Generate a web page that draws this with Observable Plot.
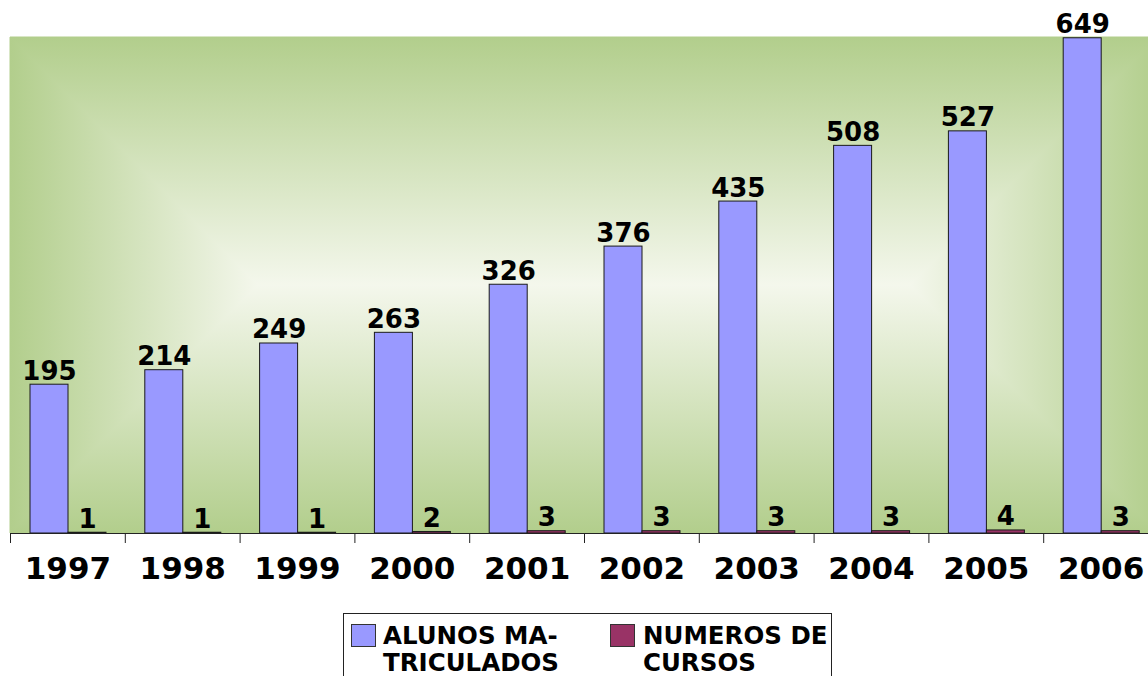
<!DOCTYPE html>
<html>
<head>
<meta charset="utf-8">
<script src="https://cdn.jsdelivr.net/npm/d3@7"></script>
<script src="https://cdn.jsdelivr.net/npm/@observablehq/plot@0.6"></script>
<style>
  html, body { margin: 0; padding: 0; background: #fff; overflow: hidden; width: 1148px; height: 676px; }
  #wrap { position: relative; width: 1148px; height: 676px; overflow: hidden; }
  #chart svg { display: block; max-width: none !important; width: 1160px; height: 605px; }
  #legend { position: absolute; left: 343px; top: 613px; width: 489px; height: 80px; border: 1px solid #222;
            box-sizing: border-box; background: #fff; font-family: "DejaVu Sans"; font-weight: bold;
            font-size: 24.5px; line-height: 27px; color: #000; }
  .sw { position: absolute; width: 25px; height: 23px; border: 1px solid #333; box-sizing: border-box; }
  .lt { position: absolute; white-space: nowrap; }
</style>
</head>
<body>
<div id="wrap">
  <div id="chart"></div>
  <div id="legend"></div>
</div>
<script>
const years = ["1997", "1998", "1999", "2000", "2001", "2002", "2003", "2004", "2005", "2006"];
const alunos = [195, 214, 249, 263, 326, 376, 435, 508, 527, 649];
const cursos = [1, 1, 1, 2, 3, 3, 3, 3, 4, 3];
const seriesLabels = [["ALUNOS MA-", "TRICULADOS"], ["NUMEROS DE", "CURSOS"]];
const seriesColors = ["#9999ff", "#993366"];

const data = years.map((year, i) => ({year, alunos: alunos[i], cursos: cursos[i]}));

const font = "DejaVu Sans";
const chart = Plot.plot({
  width: 1160,
  height: 605,
  marginLeft: 10,
  marginRight: 2,
  marginTop: 37,
  marginBottom: 72,
  style: {fontFamily: font, fontSize: "31px", fontWeight: "bold", color: "#000", background: "transparent", overflow: "visible"},
  x: {domain: years, padding: 0, round: false, tickSize: 0, tickPadding: 23, label: null},
  y: {domain: [0, 650], axis: null},
  marks: [
    Plot.barY(data, {x: "year", y: "alunos", fill: seriesColors[0], stroke: "#1a1a1a", strokeWidth: 1, insetLeft: 20, insetRight: 56.8}),
    Plot.barY(data, {x: "year", y: "cursos", fill: seriesColors[1], stroke: "#1a1a1a", strokeWidth: 1, insetLeft: 58, insetRight: 18.8}),
    Plot.text(data, {x: "year", y: "alunos", text: d => String(d.alunos), dx: -18.4, dy: -5, lineAnchor: "bottom", fontSize: 26, fontWeight: "bold", fill: "#000"}),
    Plot.text(data, {x: "year", y: "cursos", text: d => String(d.cursos), dx: 19.6, dy: -5, lineAnchor: "bottom", fontSize: 26, fontWeight: "bold", fill: "#000"}),
    Plot.ruleY([0], {stroke: "#222", strokeWidth: 1}),
    Plot.ruleX(years, {x: d => d, dx: -57.4, insetTop: 496, insetBottom: -10, stroke: "#222", strokeWidth: 1})
  ]
});
document.getElementById("chart").appendChild(chart);

// Rectangular "from centre" gradient background for the plot area
const xr = chart.scale("x").range, yr = chart.scale("y").range;
const x0 = Math.min(...xr), x1 = Math.max(...xr), y0 = Math.min(...yr), y1 = Math.max(...yr);
const half = (y1 - y0) / 2;
const edge = "#b2ce8c", centre = "#f4f7ec";
const svg = d3.select(chart);
const defs = svg.insert("defs", ":first-child");
const grads = [
  {id: "gTop", a: [x0, y0], b: [x0, y0 + half], pts: [[x0, y0], [x1, y0], [x1 - half, y0 + half], [x0 + half, y0 + half]]},
  {id: "gBot", a: [x0, y1], b: [x0, y1 - half], pts: [[x0, y1], [x1, y1], [x1 - half, y1 - half], [x0 + half, y1 - half]]},
  {id: "gLeft", a: [x0, y0], b: [x0 + half, y0], pts: [[x0, y0], [x0 + half, y0 + half], [x0, y1]]},
  {id: "gRight", a: [x1, y0], b: [x1 - half, y0], pts: [[x1, y0], [x1 - half, y0 + half], [x1, y1]]}
];
for (const g of grads) {
  const lg = defs.append("linearGradient").attr("id", g.id).attr("gradientUnits", "userSpaceOnUse")
    .attr("x1", g.a[0]).attr("y1", g.a[1]).attr("x2", g.b[0]).attr("y2", g.b[1]);
  lg.append("stop").attr("offset", 0).attr("stop-color", edge);
  lg.append("stop").attr("offset", 1).attr("stop-color", centre);
}
const bg = svg.insert("g", "defs + *");
for (const g of grads) {
  bg.append("polygon").attr("points", g.pts.map(p => p.join(",")).join(" "))
    .attr("fill", `url(#${g.id})`).attr("stroke", `url(#${g.id})`).attr("stroke-width", 1);
}

// Legend
const legend = document.getElementById("legend");
const swX = [7, 266], txX = [39, 299];
seriesLabels.forEach((lines, i) => {
  const sw = document.createElement("div");
  sw.className = "sw";
  sw.style.left = swX[i] + "px";
  sw.style.top = "10px";
  sw.style.background = seriesColors[i];
  legend.appendChild(sw);
  const t = document.createElement("div");
  t.className = "lt";
  t.style.left = txX[i] + "px";
  t.style.top = "8px";
  t.innerHTML = lines.join("<br>");
  legend.appendChild(t);
});
</script>
</body>
</html>
